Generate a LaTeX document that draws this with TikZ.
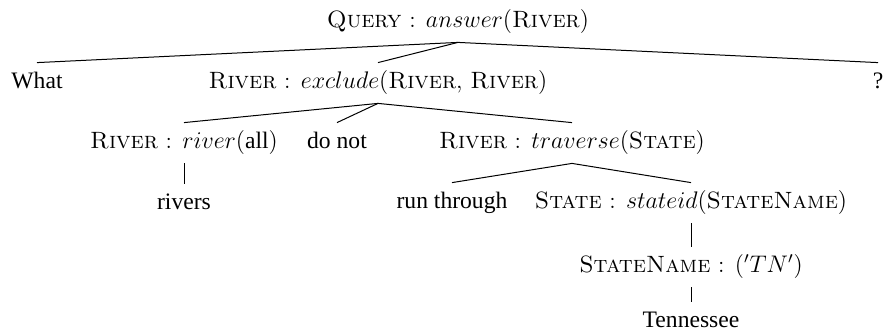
\documentclass[tikz,border=0pt]{standalone}
\usepackage{fontspec}
% labels use Latin Modern (with its small capitals); plain words use a Times-like face
\newfontfamily\wordfont{Liberation Serif}
\newcommand{\Query}{\textsc{Query}}
\newcommand{\River}{\textsc{River}}
\newcommand{\State}{\textsc{State}}
\newcommand{\StateName}{\textsc{StateName}}
\newcommand{\Wd}[1]{{\wordfont #1}}
\begin{document}
\begin{tikzpicture}[x=0.5pt,y=-0.5pt,
  tnode/.style={inner xsep=0pt, inner ysep=4.5pt, text height=8pt, text depth=3pt,
                font=\fontsize{11.8}{14}\selectfont},
  branch/.style={line width=0.5pt}]
\useasboundingbox (0,0) rectangle (884,333);

% root
\node[tnode] (root) at (458,22) {\Query\ : $answer($\River$)$};

% level 1
\node[tnode] (what)    at (37,83)  {\Wd{What}};
\node[tnode] (exclude) at (378,83) {\River\ : $exclude($\River,\ \River$)$};
\node[tnode] (qmark)   at (878,83) {\Wd{?}};

% level 2
\node[tnode] (riverall) at (184,143) {\River\ : $river($\Wd{all}$)$};
\node[tnode] (donot)    at (337,143) {\Wd{do not}};
\node[tnode] (traverse) at (572,143) {\River\ : $traverse($\State$)$};

% level 3
\node[tnode] (rivers)  at (184,204) {\Wd{rivers}};
\node[tnode] (runthr)  at (452,203) {\Wd{run through}};
\node[tnode] (stateid) at (691,203) {\State\ : $stateid($\StateName$)$};

% level 4 and 5
\node[tnode] (sname) at (691,267) {\StateName\ : $({}'TN')$};
\node[tnode] (tenn)  at (691,322) {\Wd{Tennessee}};

% branches
\draw[branch] (root.south) -- (what.north);
\draw[branch] (root.south) -- (exclude.north);
\draw[branch] (root.south) -- (qmark.north);

\draw[branch] (exclude.south) -- (riverall.north);
\draw[branch] (exclude.south) -- (donot.north);
\draw[branch] (exclude.south) -- (traverse.north);

\draw[branch] (riverall.south) -- (rivers.north);
\draw[branch] (traverse.south) -- (runthr.north);
\draw[branch] (traverse.south) -- (stateid.north);

\draw[branch] (stateid.south) -- (sname.north);
\draw[branch] (sname.south) -- (tenn.north);
\end{tikzpicture}
\end{document}
